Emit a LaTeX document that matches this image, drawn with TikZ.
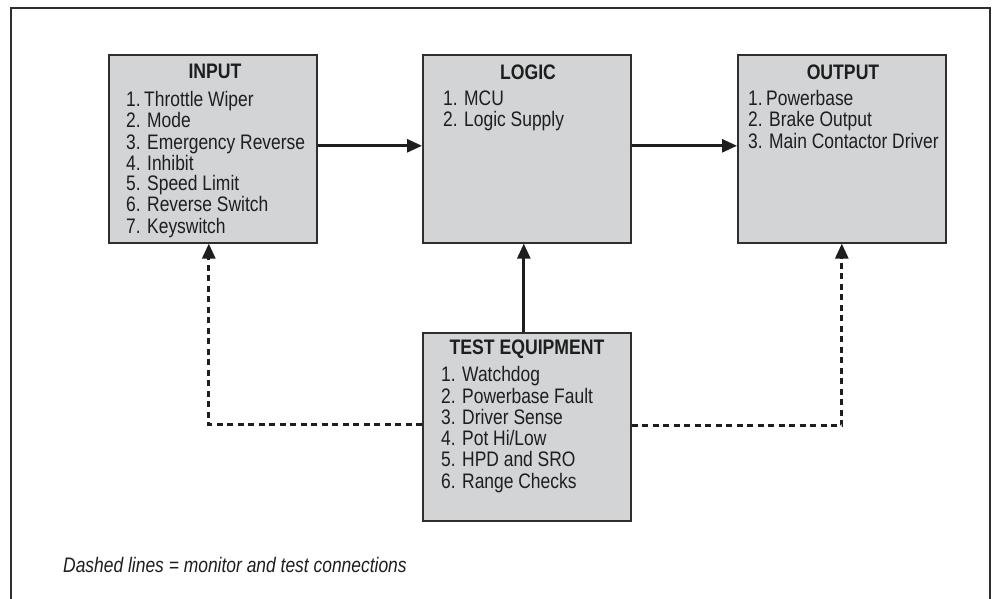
\documentclass[tikz,border=0pt]{standalone}
\usepackage{fontspec}
\setmainfont{Liberation Sans}[FakeStretch=0.83]
\newfontfamily\titlefont{Liberation Sans}[FakeStretch=0.84]
\usetikzlibrary{arrows.meta}
\definecolor{boxfill}{HTML}{D3D4D6}
\definecolor{edgecol}{HTML}{2E2E2E}
\definecolor{inkcol}{HTML}{1E1E1E}
\begin{document}
\begin{tikzpicture}[x=1pt,y=-1pt,
  blockbox/.style={draw=edgecol, line width=1.6pt, fill=boxfill, anchor=north west,
    inner sep=0pt, minimum width=208pt, minimum height=188pt},
  titletext/.style={inner sep=0pt, text=inkcol, text height=15pt, text depth=0pt,
    font=\titlefont\bfseries\fontsize{21}{21.2}\selectfont},
  itemtext/.style={anchor=west, inner sep=0pt, text=inkcol, text height=15pt, text depth=0pt,
    font=\fontsize{21}{21.2}\selectfont},
  flow/.style={draw=inkcol, line width=2.7pt, -{Triangle[length=15pt,width=13pt]}},
  monitor/.style={draw=inkcol, line width=2.8pt, dash pattern=on 6pt off 4.5pt,
    -{Triangle[length=15pt,width=13pt]}},
  frameline/.style={draw=edgecol, line width=1.5pt}]
\useasboundingbox (0,0) rectangle (993,599);
\fill[white] (0,0) rectangle (993,599);
\draw[frameline] (11,640) -- (11,8) -- (990,8) -- (990,640);

% boxes
\node[blockbox] (input) at (108,54) {};
\node[blockbox] (logic) at (422,54) {};
\node[blockbox] (output) at (737,54) {};
\node[blockbox] (test) at (422,332) {};

% INPUT
\node[titletext] (inputT) at (215,71) {INPUT};
\node[itemtext] (in1) at (126,99) {1.\,Throttle Wiper};
\node[itemtext] (in2) at (126,120) {2. Mode};
\node[itemtext] (in3) at (126,142) {3. Emergency Reverse};
\node[itemtext] (in4) at (126,163) {4. Inhibit};
\node[itemtext] (in5) at (126,183) {5. Speed Limit};
\node[itemtext] (in6) at (126,204) {6. Reverse Switch};
\node[itemtext] (in7) at (126,226) {7. Keyswitch};

% LOGIC
\node[titletext] (logicT) at (528,72) {LOGIC};
\node[itemtext] (lo1) at (443,98) {1. MCU};
\node[itemtext] (lo2) at (443,119) {2. Logic Supply};

% OUTPUT
\node[titletext] (outputT) at (843,72) {OUTPUT};
\node[itemtext] (ou1) at (748,98) {1.\,Powerbase};
\node[itemtext] (ou2) at (748,119) {2. Brake Output};
\node[itemtext] (ou3) at (748,141) {3. Main Contactor Driver};

% TEST EQUIPMENT
\node[titletext] (testT) at (527,347) {TEST EQUIPMENT};
\node[itemtext] (te1) at (441,374) {1. Watchdog};
\node[itemtext] (te2) at (441,396) {2. Powerbase Fault};
\node[itemtext] (te3) at (441,417) {3. Driver Sense};
\node[itemtext] (te4) at (441,438) {4. Pot Hi/Low};
\node[itemtext] (te5) at (441,459) {5. HPD and SRO};
\node[itemtext] (te6) at (441,481) {6. Range Checks};

% connectors
\draw[flow] ([yshift=3pt]input.east) -- ([yshift=3pt]logic.west);
\draw[flow] ([yshift=3pt]logic.east) -- ([yshift=3pt]output.west);
\draw[flow] ([xshift=-3pt]test.north) -- ([xshift=-3pt]logic.south);
\draw[monitor] ([yshift=2pt]test.west) -| ([xshift=-4pt]input.south);
\draw[monitor] ([yshift=1pt]test.east) -| (output.south);

% legend
\node[itemtext, font=\itshape\fontsize{21}{21.2}\selectfont] (legend) at (63,565)
  {Dashed lines = monitor and test connections};
\end{tikzpicture}
\end{document}
